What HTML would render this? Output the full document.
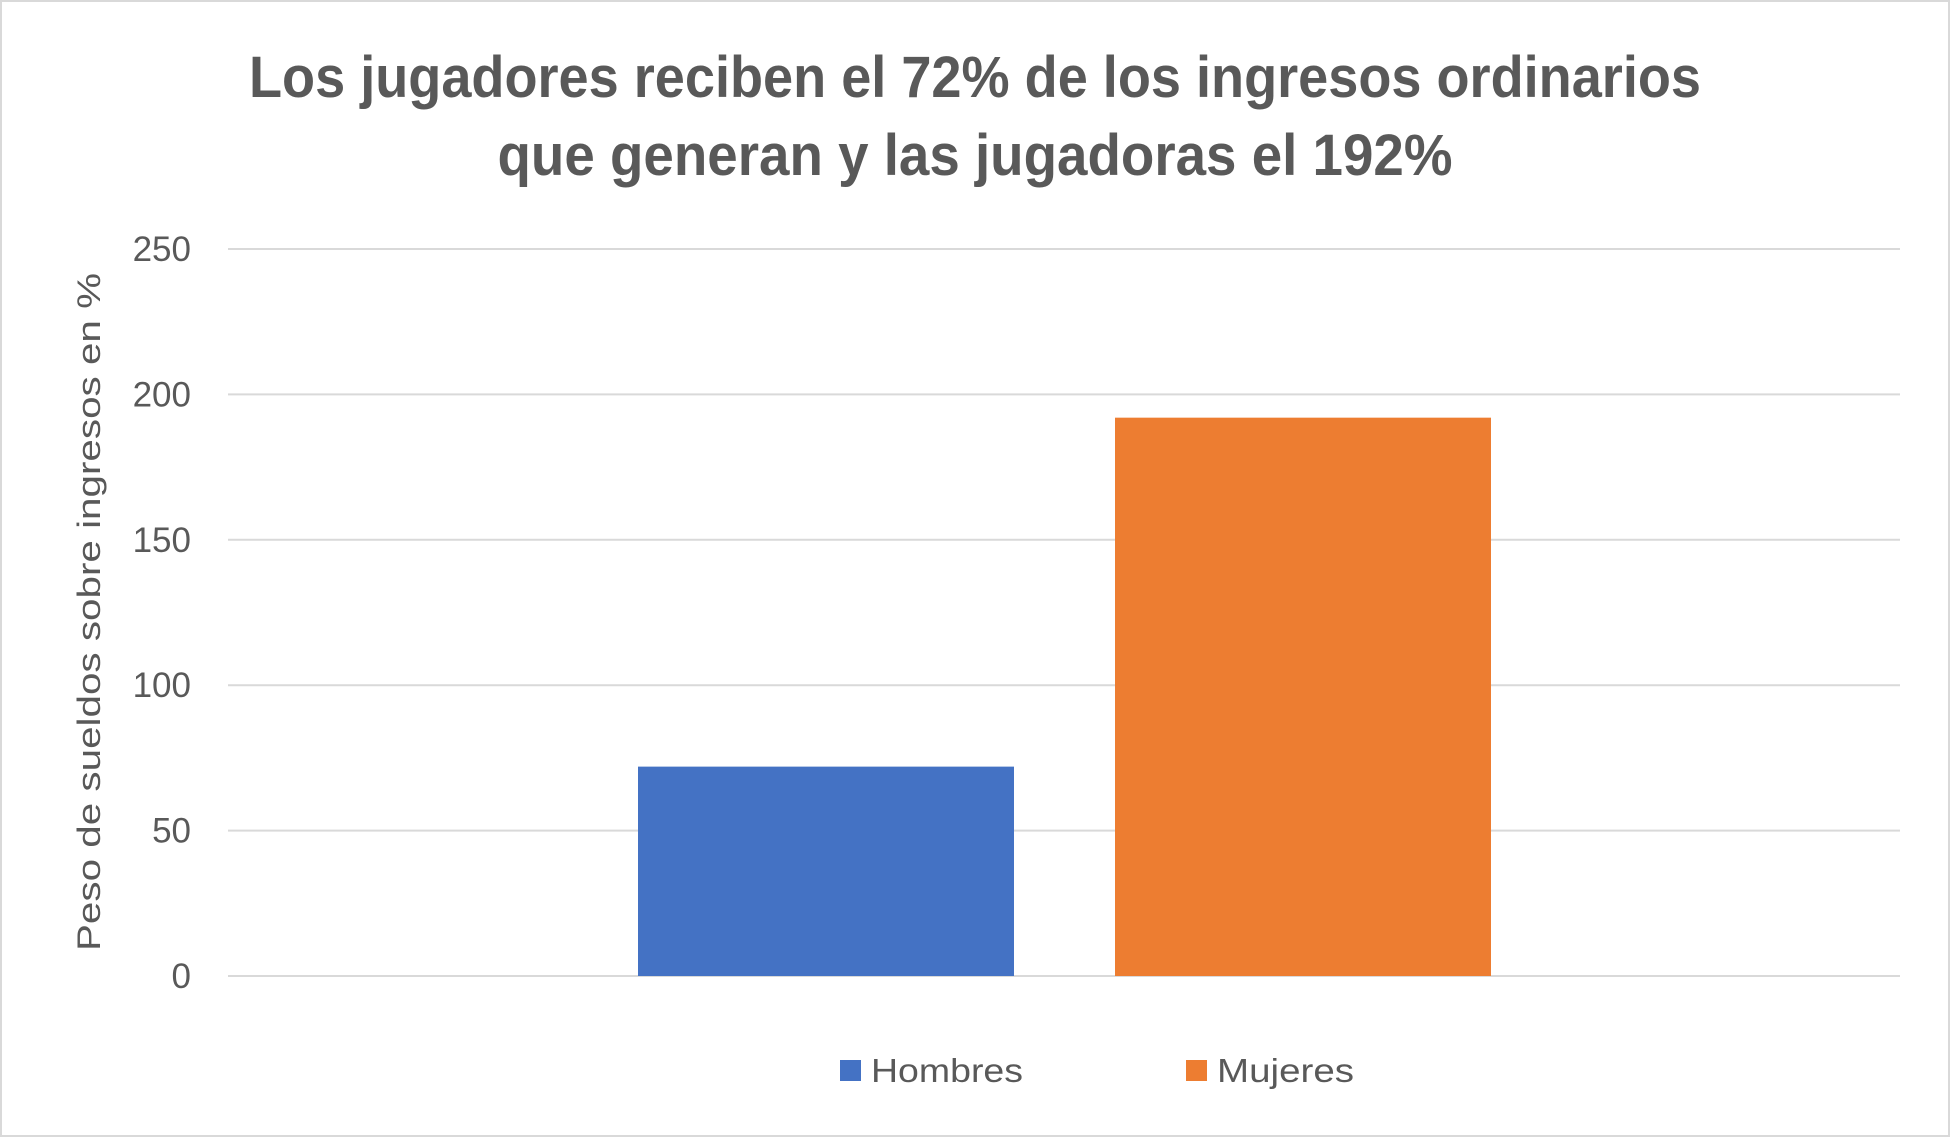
<!DOCTYPE html>
<html><head><meta charset="utf-8"><style>
html,body{margin:0;padding:0;background:#fff;}
svg{display:block;}
text{font-family:"Liberation Sans",sans-serif;}
</style></head><body>
<svg id="chart" width="1951" height="1139">
<rect x="1" y="1" width="1948" height="1135" fill="#fff" stroke="#d9d9d9" stroke-width="2"/>
<text x="975" y="97" text-anchor="middle" font-size="58" font-weight="bold" fill="#595959" textLength="1452" lengthAdjust="spacingAndGlyphs">Los jugadores reciben el 72% de los ingresos ordinarios</text>
<text x="975" y="175" text-anchor="middle" font-size="58" font-weight="bold" fill="#595959" textLength="955" lengthAdjust="spacingAndGlyphs">que generan y las jugadoras el 192%</text>
<g id="grid"></g>
<g id="bars"></g>
<text transform="translate(100,612) rotate(-90)" text-anchor="middle" font-size="32" fill="#595959" textLength="678" lengthAdjust="spacingAndGlyphs">Peso de sueldos sobre ingresos en %</text>
<g id="legend"></g>
</svg>
<script>
const categories = ["Hombres", "Mujeres"];
const values = [72, 192];
const colors = ["#4472c4", "#ed7d31"];
const yTicks = [0, 50, 100, 150, 200, 250];
const ns = "http://www.w3.org/2000/svg";
const plotL = 228, plotR = 1900, y0 = 976, y250 = 249;
function yScale(v){ return y0 - (v/250)*(y0 - y250); }
const barLeft = [638, 1115];
const barW = 376;
function mk(tag, attrs, parent){ const e=document.createElementNS(ns,tag); for(const k in attrs) e.setAttribute(k, attrs[k]); parent.appendChild(e); return e; }
const grid = document.getElementById('grid');
yTicks.forEach(t => {
  const y = yScale(t);
  const l = mk('line', {x1:plotL, x2:plotR, y1:y, y2:y, stroke:'#d9d9d9', 'stroke-width':2}, grid);
  
  
  const tx = mk('text', {x:191, y:y+12, 'text-anchor':'end', 'font-size':35, fill:'#595959'}, grid);
  tx.textContent = t;
  
  
});
const bars = document.getElementById('bars');
categories.forEach((c, i) => {
  const x = barLeft[i];
  const r = mk('rect', {x:x, y:yScale(values[i]), width:barW, height:y0 - yScale(values[i]), fill:colors[i]}, bars);
  
  
});
const legend = document.getElementById('legend');
const legX = [840, 1186];
const legW = [152, 137];
categories.forEach((c, i) => {
  const s = mk('rect', {x:legX[i], y:1060, width:21, height:21, fill:colors[i]}, legend);
  
  
  const t = mk('text', {x:legX[i]+31, y:1082, 'font-size':33, fill:'#595959', textLength:legW[i], lengthAdjust:'spacingAndGlyphs'}, legend);
  t.textContent = c;
  
  
});
</script>
</body></html>
